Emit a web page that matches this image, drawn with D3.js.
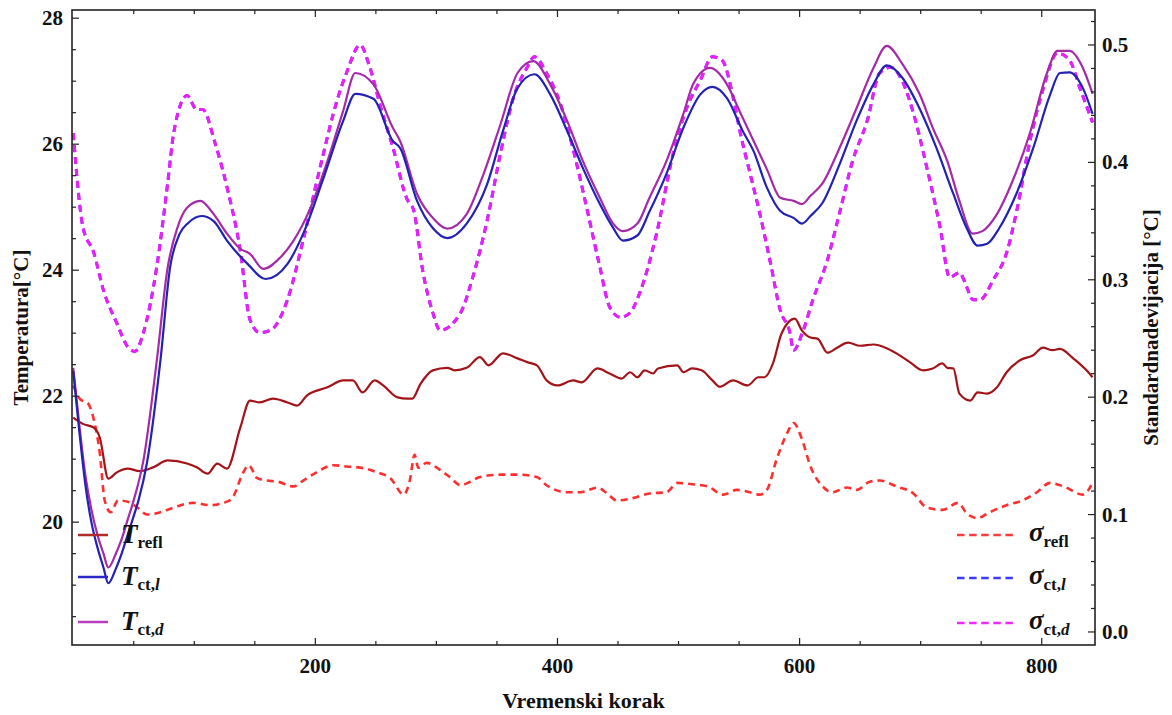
<!DOCTYPE html>
<html><head><meta charset="utf-8">
<script src="https://cdn.jsdelivr.net/npm/d3@7"></script>
</head><body style="margin:0;background:#fff">
<svg id="chart" width="1172" height="715"></svg>
<script>
// ---------- data ----------
const tReflSteps = [0,8,17,22,29,36,45,55,66,78,94,102,111,119,127,138,146,154,165,177,185,193,210,223,231,239,249,256,268,276,280,287,297,309,315,325,336,343,355,367,375,383,391,400,413,420,433,443,453,460,466,472,479,483,499,504,511,519,528,534,545,557,566,571,578,585,596,602,609,615,623,631,640,650,661,671,680,691,702,710,718,722,727,732,741,747,755,763,771,782,793,801,809,815,826,837,842];
const tReflValues = [21.66,21.56,21.5,21.34,20.69,20.79,20.85,20.81,20.87,20.98,20.93,20.87,20.77,20.93,20.85,21.5,21.93,21.9,21.96,21.9,21.85,22.01,22.14,22.25,22.25,22.06,22.25,22.17,21.98,21.96,21.96,22.2,22.41,22.45,22.41,22.45,22.62,22.49,22.68,22.6,22.54,22.49,22.25,22.17,22.25,22.22,22.44,22.36,22.28,22.38,22.3,22.41,22.36,22.44,22.49,22.38,22.44,22.41,22.25,22.15,22.25,22.17,22.3,22.3,22.52,22.99,23.23,23.04,22.93,22.91,22.69,22.77,22.85,22.8,22.82,22.77,22.68,22.54,22.41,22.44,22.52,22.45,22.44,22.04,21.93,22.06,22.04,22.14,22.38,22.57,22.65,22.77,22.73,22.75,22.6,22.41,22.3];

const tCtLSteps = [0,5,10,15,20,25,29,35,40,45,50,54,61,72,80,88,95,106,116,127,144,159,177,190,206,223,233,248,264,270,284,297,309,325,342,355,367,381,394,408,421,435,446,454,466,476,490,504,518,528,540,553,562,573,584,595,602,609,619,633,647,661,672,685,699,713,727,738,747,755,765,779,793,807,815,823,834,842];
const tCtLValues = [22.4,21.45,20.6,20.0,19.6,19.28,19.03,19.25,19.5,19.8,20.1,20.35,20.95,22.56,24.04,24.58,24.75,24.86,24.78,24.47,24.1,23.86,24.1,24.58,25.42,26.37,26.8,26.72,26.05,25.94,25.1,24.67,24.51,24.74,25.37,26.21,26.89,27.11,26.79,26.21,25.62,25.05,24.67,24.47,24.55,24.93,25.53,26.26,26.79,26.91,26.73,26.21,25.89,25.31,24.94,24.83,24.74,24.86,25.07,25.68,26.37,26.95,27.25,27.05,26.57,25.94,25.21,24.67,24.39,24.42,24.67,25.21,25.94,26.79,27.13,27.14,26.89,26.48];

const tCtDSteps = [0,5,10,15,20,25,29,35,40,45,50,58,69,78,86,94,105,116,127,138,146,157,171,182,196,210,223,233,248,264,270,284,297,309,325,339,353,367,380,394,408,421,435,446,454,466,476,490,504,512,526,540,551,562,573,584,595,602,609,619,633,647,661,672,685,699,710,722,732,743,751,763,776,790,804,813,823,834,842];
const tCtDValues = [22.45,21.55,20.75,20.2,19.8,19.5,19.28,19.49,19.73,20.04,20.35,20.98,22.56,24.04,24.67,24.99,25.1,24.89,24.58,24.34,24.26,24.02,24.2,24.47,24.99,25.73,26.53,27.13,26.95,26.26,26.05,25.21,24.83,24.66,24.89,25.53,26.32,27.13,27.32,26.95,26.37,25.73,25.15,24.74,24.62,24.74,25.15,25.73,26.48,26.95,27.21,26.95,26.5,26.05,25.6,25.15,25.1,25.05,25.18,25.38,25.94,26.57,27.21,27.56,27.27,26.8,26.26,25.73,25.1,24.58,24.62,24.89,25.42,26.16,27.11,27.48,27.48,27.21,26.8];

const sigmaReflSteps = [0,6,12,17,22,26,31,37,45,53,61,72,83,99,113,127,132,140,145,152,160,169,182,190,201,215,226,237,251,262,273,278,282,285,292,303,311,320,328,336,353,367,383,391,408,419,433,441,449,462,476,490,499,510,524,537,548,559,567,573,581,590,595,602,609,619,627,639,647,658,666,680,694,705,718,731,738,747,757,771,784,796,807,818,834,842];
const sigmaReflValues = [0.21,0.198,0.195,0.181,0.152,0.112,0.102,0.112,0.111,0.106,0.1,0.102,0.106,0.11,0.108,0.111,0.115,0.135,0.142,0.131,0.129,0.128,0.124,0.129,0.136,0.142,0.141,0.14,0.136,0.131,0.117,0.129,0.151,0.14,0.144,0.138,0.132,0.125,0.128,0.132,0.134,0.134,0.132,0.125,0.119,0.119,0.123,0.118,0.112,0.114,0.118,0.119,0.127,0.126,0.124,0.117,0.121,0.119,0.117,0.121,0.147,0.17,0.178,0.164,0.141,0.124,0.119,0.123,0.121,0.128,0.129,0.124,0.118,0.106,0.104,0.11,0.101,0.097,0.102,0.108,0.112,0.119,0.127,0.124,0.117,0.127];

const sigmaCtDSteps = [0,8,17,25,36,45,51,58,69,78,83,94,102,107,117,127,138,146,154,163,177,190,204,218,226,237,245,254,264,276,281,289,297,303,320,330,342,353,363,375,381,391,402,413,424,435,443,452,460,468,482,495,507,518,528,536,545,551,559,567,576,584,592,595,603,611,623,633,644,656,666,675,683,694,705,716,724,732,738,743,749,760,771,780,790,801,813,823,832,842];
const sigmaCtDValues = [0.425,0.345,0.323,0.291,0.263,0.243,0.239,0.255,0.311,0.382,0.425,0.457,0.445,0.445,0.417,0.379,0.325,0.266,0.255,0.257,0.283,0.334,0.396,0.453,0.477,0.5,0.481,0.447,0.413,0.368,0.36,0.306,0.272,0.257,0.272,0.302,0.351,0.408,0.453,0.481,0.49,0.476,0.451,0.411,0.362,0.311,0.277,0.268,0.272,0.289,0.34,0.405,0.447,0.47,0.49,0.487,0.456,0.425,0.391,0.357,0.314,0.274,0.255,0.24,0.257,0.283,0.317,0.357,0.402,0.436,0.476,0.481,0.473,0.442,0.396,0.345,0.302,0.306,0.294,0.283,0.283,0.3,0.323,0.362,0.417,0.462,0.493,0.487,0.462,0.434];

// sigma_ct,l lies underneath sigma_ct,d in the reference (same readings)
const sigmaCtLSteps = sigmaCtDSteps;
const sigmaCtLValues = sigmaCtDValues;

const xTickLabels = [200,400,600,800];
const yLeftTickLabels = [20,22,24,26,28];
const yRightTickLabels = [0.0,0.1,0.2,0.3,0.4,0.5];

// ---------- layout ----------
const FONT = "'Liberation Serif'";
const svg = d3.select("#chart");
const mL = 72, mR = 1095, mT = 10, mB = 645;

const x = d3.scaleLinear().domain([-1, 844]).range([mL, mR]);
const yL = d3.scaleLinear().domain([18.05, 28.13]).range([mB, mT]);
const yR = d3.scaleLinear().domain([-0.0111, 0.5298]).range([mB, mT]);

function addText(parent){
  return parent.append("text").attr("font-family", FONT).attr("font-weight","bold").attr("fill","#111");
}

const series = [
  {steps: sigmaCtLSteps, vals: sigmaCtLValues, y: yR, color: "#3a3aff", dash: "7,5", w: 3},
  {steps: sigmaCtDSteps, vals: sigmaCtDValues, y: yR, color: "#f01cff", dash: "7,5", w: 3},
  {steps: sigmaReflSteps, vals: sigmaReflValues, y: yR, color: "#ff2e2e", dash: "7,5", w: 2.6},
  {steps: tReflSteps, vals: tReflValues, y: yL, color: "#a3141a", dash: null, w: 2.2},
  {steps: tCtDSteps, vals: tCtDValues, y: yL, color: "#a52aa8", dash: null, w: 2.2},
  {steps: tCtLSteps, vals: tCtLValues, y: yL, color: "#2222b4", dash: null, w: 2.2}
];

const g = svg.append("g");
series.forEach(s => {
  const line = d3.line().x((d,i)=>x(s.steps[i])).y(d=>s.y(d)).curve(d3.curveMonotoneX);
  const p = g.append("path").datum(s.vals).attr("d", line)
    .attr("fill","none").attr("stroke", s.color).attr("stroke-width", s.w)
    .attr("stroke-linejoin","round");
  if (s.dash) p.attr("stroke-dasharray", s.dash);
});

// ---------- frame & ticks (drawn manually through the scales) ----------
const frameColor = "#222";
const ax = svg.append("g");
ax.append("rect").attr("x",mL).attr("y",mT).attr("width",mR-mL).attr("height",mB-mT)
  .attr("fill","none").attr("stroke",frameColor).attr("stroke-width",1.6);

function range(a,b,step){ const out=[]; for(let i=0;a+i*step<=b+1e-9;i++) out.push(Math.round((a+i*step)*1000)/1000); return out; }
const xMinor = range(50, 844, 50).filter(v=>!xTickLabels.includes(v));
const yLMinor = range(18.5, 28, 0.5).filter(v=>!yLeftTickLabels.includes(v));
const yRMinor = range(0, 0.52, 0.02).filter(v=>!yRightTickLabels.some(m=>Math.abs(m-v)<1e-6));

function tick(x1,y1,x2,y2){ ax.append("line").attr("x1",x1).attr("y1",y1).attr("x2",x2).attr("y2",y2).attr("stroke",frameColor).attr("stroke-width",1.2); }
xTickLabels.forEach(v=>{ tick(x(v),mB,x(v),mB-7); tick(x(v),mT,x(v),mT+7); });
xMinor.forEach(v=>{ tick(x(v),mB,x(v),mB-4); tick(x(v),mT,x(v),mT+4); });
yLeftTickLabels.forEach(v=>tick(mL,yL(v),mL+7,yL(v)));
yLMinor.forEach(v=>tick(mL,yL(v),mL+4,yL(v)));
yRightTickLabels.forEach(v=>tick(mR,yR(v),mR-7,yR(v)));
yRMinor.forEach(v=>tick(mR,yR(v),mR-4,yR(v)));

xTickLabels.forEach(v=>addText(ax).attr("x",x(v)).attr("y",mB+28).attr("text-anchor","middle").attr("font-size",21).text(d3.format("d")(v)));
yLeftTickLabels.forEach(v=>addText(ax).attr("x",mL-9).attr("y",yL(v)+7).attr("text-anchor","end").attr("font-size",21).text(d3.format("d")(v)));
yRightTickLabels.forEach(v=>addText(ax).attr("x",mR+7).attr("y",yR(v)+7).attr("text-anchor","start").attr("font-size",21).text(d3.format(".1f")(v)));

// axis titles
addText(svg).attr("x",(mL+mR)/2).attr("y",708).attr("text-anchor","middle")
  .attr("font-size",22).text("Vremenski korak");
addText(svg).attr("transform",`translate(28,${(mT+mB)/2}) rotate(-90)`).attr("text-anchor","middle")
  .attr("font-size",21).text("Temperatura[°C]");
addText(svg).attr("transform",`translate(1158,${(mT+mB)/2}) rotate(-90)`).attr("text-anchor","middle")
  .attr("font-size",21).text("Standardnadevijacija [°C]");

// ---------- legends ----------
const legendLeft = [
  {sym:"T", sub:[["refl",false]], color:"#b02a2a", y:535},
  {sym:"T", sub:[["ct,",false],["l",true]], color:"#2828c8", y:577},
  {sym:"T", sub:[["ct,",false],["d",true]], color:"#b83cc0", y:622}
];
legendLeft.forEach(d=>{
  svg.append("line").attr("x1",78).attr("x2",108).attr("y1",d.y).attr("y2",d.y)
    .attr("stroke",d.color).attr("stroke-width",2.5);
  const t = addText(svg).attr("x",121).attr("y",d.y+8);
  t.append("tspan").attr("font-style","italic").attr("font-size",27).text(d.sym);
  d.sub.forEach((s,i)=>{
    const sp = t.append("tspan").attr("font-size",17).text(s[0]);
    if (i===0) sp.attr("dy",5);
    if (s[1]) sp.attr("font-style","italic");
  });
});
const legendRight = [
  {sym:"σ", sub:[["refl",false]], color:"#ff3a3a", y:535},
  {sym:"σ", sub:[["ct,",false],["l",true]], color:"#3a3aff", y:578},
  {sym:"σ", sub:[["ct,",false],["d",true]], color:"#f028ff", y:623}
];
legendRight.forEach(d=>{
  svg.append("line").attr("x1",957).attr("x2",1015).attr("y1",d.y).attr("y2",d.y)
    .attr("stroke",d.color).attr("stroke-width",2.6).attr("stroke-dasharray","7.5,4.6");
  const t = addText(svg).attr("x",1029).attr("y",d.y+6);
  t.append("tspan").attr("font-style","italic").attr("font-size",27).text(d.sym);
  d.sub.forEach((s,i)=>{
    const sp = t.append("tspan").attr("font-size",17).text(s[0]);
    if (i===0) sp.attr("dy",6);
    if (s[1]) sp.attr("font-style","italic");
  });
});
</script>
</body></html>
